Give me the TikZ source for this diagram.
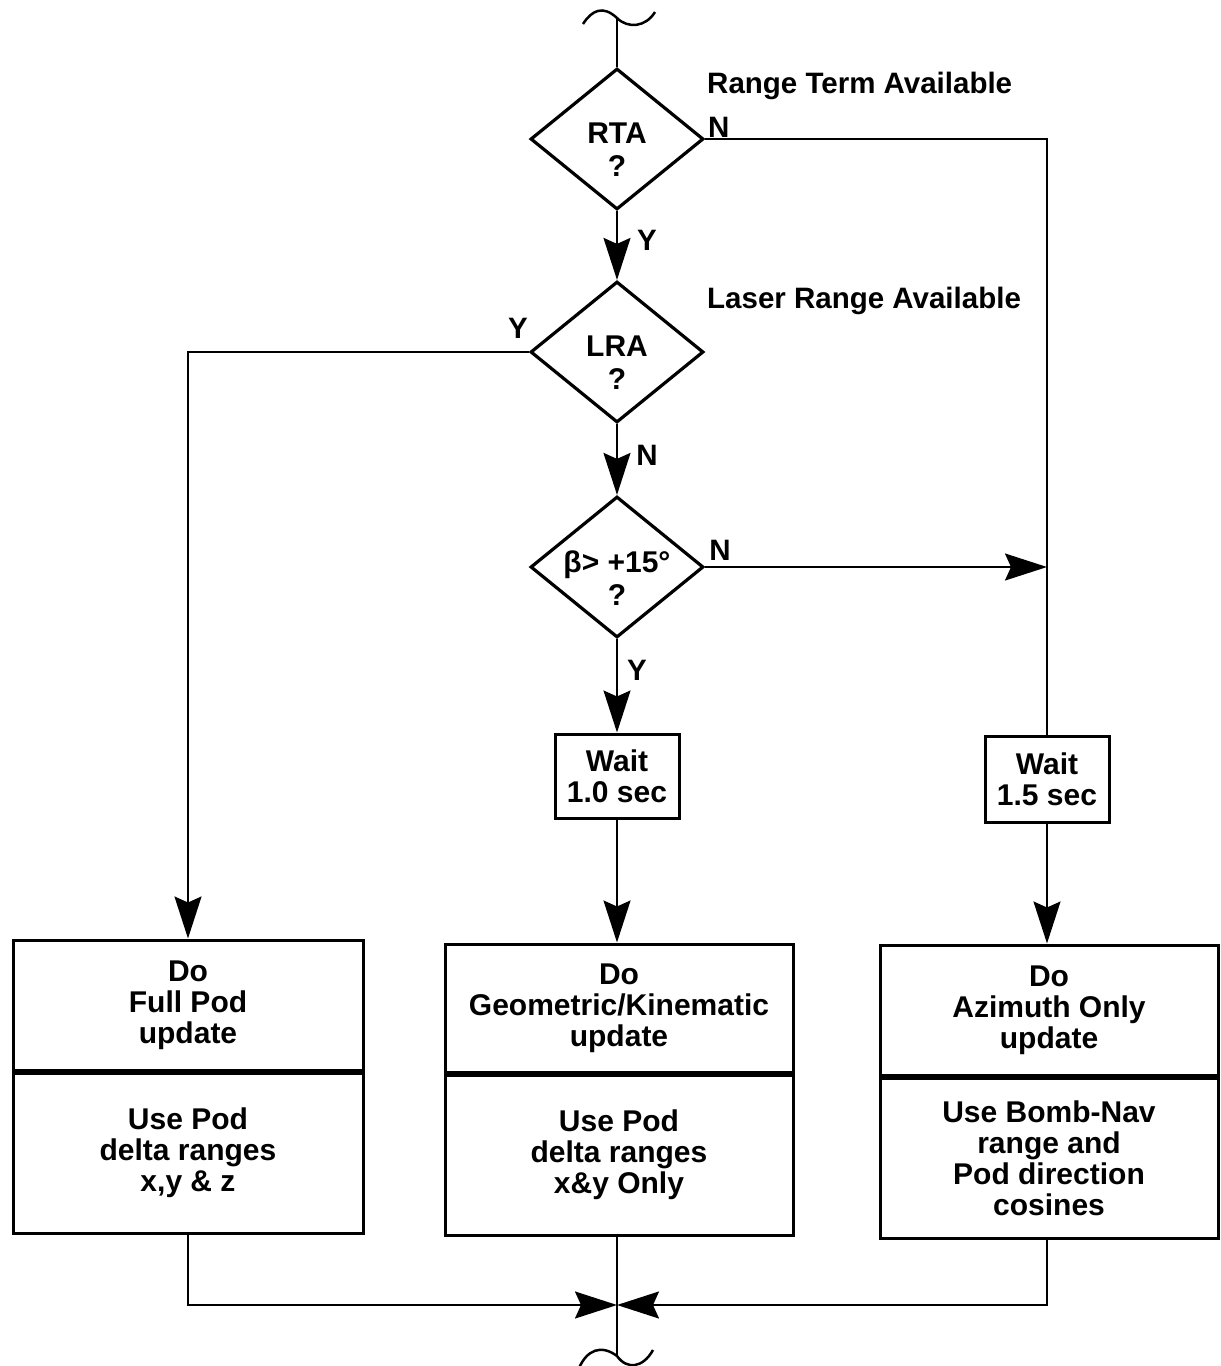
\documentclass[tikz,border=0pt]{standalone}
\usepackage{fontspec}
\setmainfont{Liberation Sans}
\usetikzlibrary{shapes.geometric,arrows.meta}
\begin{document}
\begin{tikzpicture}[x=1pt,y=-1pt,
  dia/.style={draw,line width=3.2pt,shape=diamond,minimum width=173pt,minimum height=141pt,inner sep=0pt},
  dtxt/.style={align=center,inner sep=0pt,font=\fontsize{30}{33}\selectfont\bfseries},
  boxx/.style={draw,line width=3pt,align=center,inner sep=0pt,font=\fontsize{30}{31}\selectfont\bfseries},
  lbl/.style={inner sep=0pt,font=\fontsize{29.5}{31}\selectfont\bfseries},
  conn/.style={line width=2pt},
  arr/.style={conn,-{Stealth[length=42pt,width=27pt,inset=6pt]}}]
\useasboundingbox[fill=white] (0,0) rectangle (1221,1366);

% top break symbol
\coordinate (topw) at (617,18);
\draw[conn,line width=2.5pt] (583,24) .. controls (592,10) and (603,5) .. (topw) .. controls (628,29) and (646,27) .. (655,12);

% decisions
\node[dia] (rta) at (617,139) {};
\node[dtxt] (rtat) at (617,150) {RTA\\?};
\node[dia] (lra) at (617,352) {};
\node[dtxt] (lrat) at (617,363) {LRA\\?};
\node[dia] (beta) at (617,567) {};
\node[dtxt] (betat) at (617,578) {β> +15°\\?};

% labels
\node[lbl,anchor=base west] (rtalbl) at (707,93) {Range Term Available};
\node[lbl,anchor=base west] (lralbl) at (707,308) {Laser Range Available};
\node[lbl,anchor=base west] (n1) at (708,137) {N};
\node[lbl,anchor=base] (y1) at (647,250) {Y};
\node[lbl,anchor=base] (y2) at (518,338) {Y};
\node[lbl,anchor=base] (n2) at (647,465) {N};
\node[lbl,anchor=base] (n3) at (720,560) {N};
\node[lbl,anchor=base] (y3) at (637,680) {Y};

% wait boxes
\node[boxx,minimum width=124pt,minimum height=84pt] (w10) at (617,776) {Wait\\1.0 sec};
\node[boxx,minimum width=124pt,minimum height=86pt] (w15) at (1047,779) {Wait\\1.5 sec};

% action boxes
\node[boxx,minimum width=350pt,minimum height=130pt] (b1t) at (188,1005) {Do\\Full Pod\\update};
\node[boxx,minimum width=350pt,minimum height=160pt,anchor=north] (b1b) at (b1t.south) {Use Pod\\delta ranges\\x,y \& z};
\node[boxx,minimum width=348pt,minimum height=128pt] (b2t) at (619,1008) {Do\\Geometric/Kinematic\\update};
\node[boxx,minimum width=348pt,minimum height=160pt,anchor=north] (b2b) at (b2t.south) {Use Pod\\delta ranges\\x\&y Only};
\node[boxx,minimum width=338pt,minimum height=130pt] (b3t) at (1049,1010) {Do\\Azimuth Only\\update};
\node[boxx,minimum width=338pt,minimum height=160pt,anchor=north] (b3b) at (b3t.south) {Use Bomb-Nav\\range and\\Pod direction\\cosines};

% connectors
\draw[conn] (topw) -- (rta.north);
\draw[arr] (rta.south) -- (lra.north);
\draw[conn] (rta.east) -| (w15.north);
\draw[arr] (lra.west) -| (b1t.north);
\draw[arr] (lra.south) -- (beta.north);
\coordinate (jn) at (beta.east -| w15.north);
\draw[arr] (beta.east) -- (jn);
\draw[arr] (beta.south) -- (w10.north);
\draw[arr] (w10.south) -- (w10.south |- b2t.north);
\draw[arr] (w15.south) -- (w15.south |- b3t.north);

% merge at bottom
\coordinate (mj) at (617,1305);
\draw[arr] (b1b.south) |- (mj);
\draw[arr] (b3b.south -| w15.south) |- (mj);
\coordinate (botw) at (617,1356);
\draw[conn] (b2b.south -| botw) -- (botw);
\draw[conn,line width=2.5pt] (579,1368) .. controls (587,1350) and (601,1344) .. (botw) .. controls (627,1370) and (643,1368) .. (653,1350);
\end{tikzpicture}
\end{document}
